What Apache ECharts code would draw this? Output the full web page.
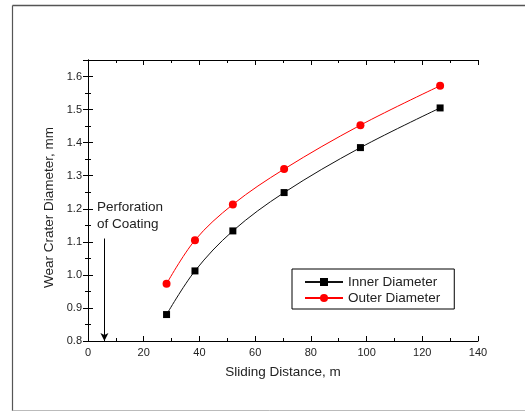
<!DOCTYPE html>
<html>
<head>
<meta charset="utf-8">
<script src="https://cdn.jsdelivr.net/npm/echarts@6/dist/echarts.min.js"></script>
<style>
html,body{margin:0;padding:0;background:#fff;}
#chart{width:525px;height:412px;}
</style>
</head>
<body>
<div id="chart"></div>
<script>
var distance = [28.2, 38.4, 52.0, 70.4, 97.8, 126.4];
var innerDiameter = [0.880, 1.012, 1.133, 1.249, 1.385, 1.505];
var outerDiameter = [0.973, 1.105, 1.213, 1.320, 1.453, 1.572];
var seriesNames = ['Inner Diameter', 'Outer Diameter'];
var xTitle = 'Sliding Distance, m';
var yTitle = 'Wear Crater Diameter, mm';
var annotation = ['Perforation', 'of Coating'];
var perforationX = 5.9;

function pairs(xs, ys){ return xs.map(function(x,i){ return [x, ys[i]]; }); }

var FONT = 'Liberation Sans, Arial, sans-serif';
var axisCommon = {
  axisLine: {show: true, lineStyle: {color: '#000', width: 1}},
  axisTick: {show: true, inside: true, length: 5, lineStyle: {color: '#000', width: 1}},
  minorTick: {show: true, splitNumber: 2, length: 3, lineStyle: {color: '#000', width: 1}},
  splitLine: {show: false},
  minorSplitLine: {show: false}
};

var chart = echarts.init(document.getElementById('chart'), null, {renderer: 'canvas'});
chart.setOption({
  animation: false,
  backgroundColor: '#fff',
  grid: {left: 88, right: 47, top: 60, bottom: 71, containLabel: false, outerBoundsMode: 'none'},
  graphic: [
    {type: 'line', shape: {x1: 12.5, y1: 5.5, x2: 530, y2: 5.5}, style: {stroke: '#555', lineWidth: 1.5}},
    {type: 'line', shape: {x1: 12.5, y1: 5.5, x2: 12.5, y2: 411}, style: {stroke: '#555', lineWidth: 1.2}},
    {type: 'line', shape: {x1: 12.5, y1: 410.5, x2: 530, y2: 410.5}, style: {stroke: '#bbb', lineWidth: 1}},
    {type: 'text', left: 97, top: 200, style: {text: annotation[0], font: '13.5px ' + FONT, fill: '#222'}},
    {type: 'text', left: 97, top: 217, style: {text: annotation[1], font: '13.5px ' + FONT, fill: '#222'}}
  ],
  legend: {
    orient: 'vertical', left: 292, top: 269,
    borderColor: '#000', borderWidth: 1, borderRadius: 0,
    padding: [6, 14, 4, 12],
    itemWidth: 38, itemHeight: 10, itemGap: 2,
    textStyle: {fontFamily: FONT, fontSize: 13.5, lineHeight: 14, color: '#222'},
    data: seriesNames
  },
  xAxis: [
    Object.assign({}, axisCommon, {
      type: 'value', position: 'bottom', min: 0, max: 140, interval: 20,
      name: xTitle, nameLocation: 'middle', nameGap: 24,
      nameTextStyle: {fontFamily: FONT, fontSize: 13.5, color: '#222'},
      axisLabel: {fontFamily: FONT, fontSize: 11, color: '#222', margin: 6}
    }),
    Object.assign({}, axisCommon, {
      type: 'value', position: 'top', min: 0, max: 140, interval: 20,
      axisLabel: {show: false}
    })
  ],
  yAxis: [
    Object.assign({}, axisCommon, {
      type: 'value', position: 'left', min: 0.8, max: 1.65, interval: 0.1,
      name: yTitle, nameLocation: 'middle', nameGap: 28,
      nameTextStyle: {fontFamily: FONT, fontSize: 13.5, color: '#222', padding: [0, 0, 0, -14]},
      axisLabel: {fontFamily: FONT, fontSize: 11, color: '#222', margin: 6, showMaxLabel: false,
        formatter: function(v){ return v.toFixed(1); }}
    }),
    Object.assign({}, axisCommon, {
      type: 'value', position: 'right', min: 0.8, max: 1.65, interval: 0.1,
      axisLabel: {show: false}
    })
  ],
  series: [
    {
      name: seriesNames[0], type: 'line', smooth: 0.35,
      data: pairs(distance, innerDiameter),
      symbol: 'rect', symbolSize: 7,
      lineStyle: {color: '#111', width: 1},
      itemStyle: {color: '#000'},
      markLine: {
        silent: true, symbol: ['none', 'arrow'], symbolSize: [6, 8],
        label: {show: false},
        lineStyle: {color: '#000', width: 1, type: 'solid'},
        data: [[{coord: [perforationX, 1.11]}, {coord: [perforationX, 0.8]}]]
      },
      z: 3
    },
    {
      name: seriesNames[1], type: 'line', smooth: 0.35,
      data: pairs(distance, outerDiameter),
      symbol: 'circle', symbolSize: 8,
      lineStyle: {color: '#ff0000', width: 1},
      itemStyle: {color: '#ff0000'},
      z: 3
    }
  ]
});
</script>
</body>
</html>
